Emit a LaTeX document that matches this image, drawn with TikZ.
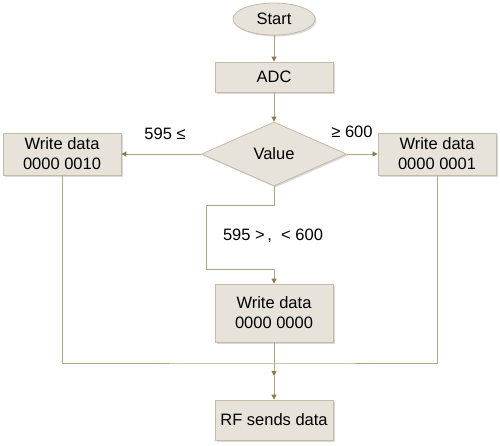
\documentclass[tikz,border=0pt]{standalone}
\usepackage{fontspec}
\setmainfont{Liberation Sans}
\usepackage{xcolor}
\definecolor{boxc}{HTML}{E8E3DA}
\definecolor{edgec}{HTML}{C6B9A5}
\definecolor{linec}{HTML}{B8A483}
\definecolor{tipc}{HTML}{8C7852}
\usepackage{tikz}
\usetikzlibrary{arrows.meta,shapes.geometric,shadows}
\tikzset{
  >={Triangle[length=5pt,width=5pt,color=tipc]},
  base/.style={draw=edgec,fill=boxc,line width=0.8pt,inner sep=1pt,align=center,
    font=\fontsize{16.5}{20}\selectfont,
    drop shadow={shadow xshift=1.5pt,shadow yshift=-1.5pt,opacity=0.25,fill=black!60}},
  stepbox/.style={base,rectangle,minimum width=118pt},
  term/.style={base,ellipse,minimum width=82pt,minimum height=32pt},
  test/.style={base,diamond,aspect=2.3,minimum width=145pt,minimum height=64pt},
  ln/.style={draw=linec,line width=0.9pt},
  ar/.style={ln,->},
  lbl/.style={font=\fontsize{16.5}{20}\selectfont,inner sep=0pt},
}
\begin{document}
\begin{tikzpicture}[x=1pt,y=-1pt]
  \useasboundingbox (0,0) rectangle (500,445);
  % blocks
  \node[term] (start) at (274,19) {Start};
  \node[stepbox,minimum height=30pt] (adc) at (274,77) {ADC};
  \node[test] (val) at (274,154) {Value};
  \node[stepbox,minimum height=42pt] (wl) at (62,154) {Write data\\0000 0010};
  \node[stepbox,minimum height=42pt] (wr) at (437,154) {Write data\\0000 0001};
  \node[stepbox,minimum height=58pt] (wm) at (274,313) {Write data\\0000 0000};
  \node[stepbox,minimum height=40pt] (rf) at (274,420) {RF sends data};
  % bend points
  \coordinate (k1) at (206,205);
  \coordinate (k2) at (206,269);
  \coordinate (jn) at (274,363);
  \coordinate (jt) at (274,376);
  % links
  \draw[ar] (start) -- (adc);
  \draw[ar] (adc) -- (val);
  \draw[ar] (val.west) -- (wl.east);
  \draw[ar] (val.east) -- (wr.east -| wr.west);
  \draw[ar] (val.south) |- (k1) -- (k2) -| (wm.north);
  \draw[ln] (wl.south) |- (jn) -| (wr.south);
  \draw[ln] (wm.south) -- (jn);
  \draw[ar] (jn) -- (jt);
  \draw[ar] (jt) -- (rf.north);
  % conditions
  \node[lbl] (c1) at (165,134) {595 ≤};
  \node[lbl] (c2) at (352,132) {≥ 600};
  \node[lbl] (c3) at (273,236) {595 >\,,\ \ < 600};
\end{tikzpicture}
\end{document}
